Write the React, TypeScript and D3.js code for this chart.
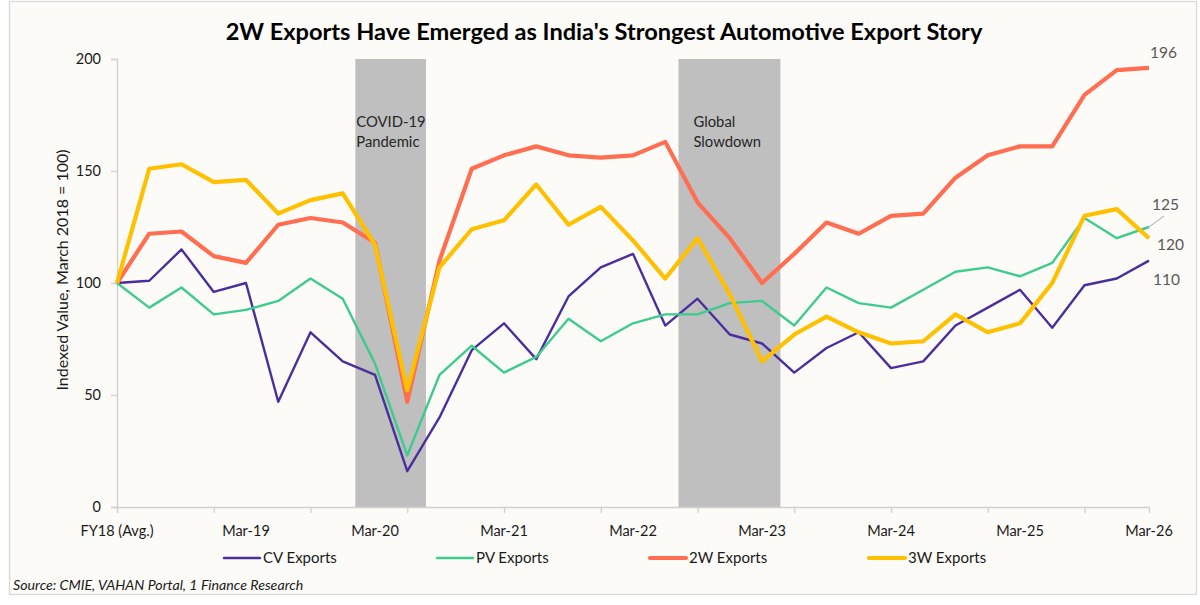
import { useEffect, useRef } from "react";
import * as d3 from "d3";

const categories = [
  "FY18 (Avg.)", "Jun-18", "Sep-18", "Dec-18", "Mar-19", "Jun-19", "Sep-19", "Dec-19",
  "Mar-20", "Jun-20", "Sep-20", "Dec-20", "Mar-21", "Jun-21", "Sep-21", "Dec-21",
  "Mar-22", "Jun-22", "Sep-22", "Dec-22", "Mar-23", "Jun-23", "Sep-23", "Dec-23",
  "Mar-24", "Jun-24", "Sep-24", "Dec-24", "Mar-25", "Jun-25", "Sep-25", "Dec-25", "Mar-26",
];
const shownLabels = ["FY18 (Avg.)", "Mar-19", "Mar-20", "Mar-21", "Mar-22", "Mar-23", "Mar-24", "Mar-25", "Mar-26"];

const cvExports = [100, 101, 115, 96, 100, 47, 78, 65, 59, 16, 40, 70, 82, 66, 94, 107, 113, 81, 93, 77, 73, 60, 71, 78, 62, 65, 81, 89, 97, 80, 99, 102, 110];
const pvExports = [100, 89, 98, 86, 88, 92, 102, 93, 64, 23, 59, 72, 60, 67, 84, 74, 82, 86, 86, 91, 92, 81, 98, 91, 89, 97, 105, 107, 103, 109, 129, 120, 125];
const twExports = [100, 122, 123, 112, 109, 126, 129, 127, 118, 47, 110, 151, 157, 161, 157, 156, 157, 163, 136, 120, 100, 113, 127, 122, 130, 131, 147, 157, 161, 161, 184, 195, 196];
const threeWExports = [100, 151, 153, 145, 146, 131, 137, 140, 117, 52, 107, 124, 128, 144, 126, 134, 119, 102, 120, 95, 65, 77, 85, 78, 73, 74, 86, 78, 82, 100, 130, 133, 120];

const yTicks = [0, 50, 100, 150, 200];

// shaded periods, in category-index units
const bands = [
  { start: 7.39, end: 9.58, lines: ["COVID-19", "Pandemic"], pad: 1 },
  { start: 17.41, end: 20.57, lines: ["Global", "Slowdown"], pad: 15 },
];

// end labels: text, offset from the last point (dx, dy)
const seriesList = [
  { name: "CV Exports", values: cvExports, color: "#4B2E9E", width: 2.4, end: "110", dx: 4, dy: 24 },
  { name: "PV Exports", values: pvExports, color: "#3DCB8E", width: 2.4, end: "125", dx: 3, dy: -17 },
  { name: "2W Exports", values: twExports, color: "#FF6E50", width: 4.2, end: "196", dx: 1, dy: -10 },
  { name: "3W Exports", values: threeWExports, color: "#FFC000", width: 4.2, end: "120", dx: 8, dy: 12 },
];

const W = 1200;
const H = 605;
const M = { top: 59, bottom: 98, left: 117, right: 51 };
const FONT = "Lato, 'Open Sans', sans-serif";

export default function App() {
  const svgRef = useRef<SVGSVGElement>(null);

  useEffect(() => {
    if (!svgRef.current) return;
    const svg = d3.select(svgRef.current);
    svg.selectAll("*").remove();

    const innerW = W - M.left - M.right;
    const innerH = H - M.top - M.bottom;

    const x = d3.scaleLinear().domain([0, categories.length - 1]).range([0, innerW]);
    const y = d3.scaleLinear().domain([0, 200]).range([innerH, 0]);

    svg.append("rect").attr("width", W).attr("height", H).attr("fill", "#ffffff");
    svg
      .append("rect")
      .attr("x", 9.5)
      .attr("y", 1.5)
      .attr("width", 1187)
      .attr("height", 593)
      .attr("fill", "#FCFBF7")
      .attr("stroke", "#D9D9D9")
      .attr("stroke-width", 1.3);

    svg
      .append("text")
      .attr("x", 604)
      .attr("y", 40)
      .attr("text-anchor", "middle")
      .attr("font-family", FONT)
      .attr("font-weight", 700)
      .attr("font-size", 23.6)
      .attr("fill", "#000")
      .text("2W Exports Have Emerged as India's Strongest Automotive Export Story");

    const g = svg.append("g").attr("transform", `translate(${M.left},${M.top})`);

    // shaded periods
    bands.forEach((b) => {
      g.append("rect")
        .attr("x", x(b.start))
        .attr("y", y(200))
        .attr("width", x(b.end) - x(b.start))
        .attr("height", y(0) - y(200))
        .attr("fill", "#BFBFBF");
    });

    // axes
    const yAxis = g.append("g").call(d3.axisLeft(y).tickValues(yTicks).tickSize(6).tickPadding(10));
    yAxis.select(".domain").attr("stroke", "#D0D0D0").attr("stroke-width", 1.3);
    yAxis.selectAll(".tick line").attr("stroke", "#D0D0D0").attr("stroke-width", 1.3);
    yAxis
      .selectAll(".tick text")
      .attr("font-family", FONT)
      .attr("font-size", 14.5)
      .attr("fill", "#1a1a1a");

    const tickIdx = d3.range(0, categories.length, 3);
    const xAxis = g
      .append("g")
      .attr("transform", `translate(0,${innerH})`)
      .call(d3.axisBottom(x).tickValues(tickIdx).tickSize(6).tickFormat(() => ""));
    xAxis.select(".domain").attr("stroke", "#D0D0D0").attr("stroke-width", 1.3);
    xAxis.selectAll(".tick line").attr("stroke", "#D0D0D0").attr("stroke-width", 1.3);

    categories.forEach((c, i) => {
      if (!shownLabels.includes(c)) return;
      g.append("text")
        .attr("x", x(i))
        .attr("y", innerH + 29)
        .attr("text-anchor", "middle")
        .attr("font-family", FONT)
        .attr("font-size", 14.5)
        .attr("fill", "#1a1a1a")
        .text(c);
    });

    // band labels
    bands.forEach((b) => {
      b.lines.forEach((t, li) => {
        g.append("text")
          .attr("x", x(b.start) + b.pad)
          .attr("y", 68 + li * 20)
          .attr("font-family", FONT)
          .attr("font-size", 14.8)
          .attr("fill", "#262626")
          .text(t);
      });
    });

    // lines
    const line = d3
      .line<number>()
      .x((_, i) => x(i))
      .y((d) => y(d));

    seriesList.forEach((s) => {
      g.append("path")
        .datum(s.values)
        .attr("d", line)
        .attr("fill", "none")
        .attr("stroke", s.color)
        .attr("stroke-width", s.width)
        .attr("stroke-linejoin", "round");
    });

    // end labels
    const last = categories.length - 1;
    g.append("line")
      .attr("x1", x(last))
      .attr("y1", y(pvExports[last]))
      .attr("x2", x(last) + 15)
      .attr("y2", y(pvExports[last]) - 11)
      .attr("stroke", "#A6A6A6")
      .attr("stroke-width", 1);
    seriesList.forEach((s) => {
      g.append("text")
        .attr("x", x(last) + s.dx)
        .attr("y", y(s.values[last]) + s.dy)
        .attr("font-family", FONT)
        .attr("font-size", 15.5)
        .attr("fill", "#595959")
        .text(s.end);
    });

    // y axis title
    svg
      .append("text")
      .attr("transform", `translate(68,270) rotate(-90)`)
      .attr("text-anchor", "middle")
      .attr("font-family", FONT)
      .attr("font-size", 16)
      .attr("fill", "#1a1a1a")
      .text("Indexed Value, March 2018 = 100)");

    // legend
    const legendX = [224, 437, 650, 869];
    seriesList.forEach((s, i) => {
      const lg = svg.append("g").attr("transform", `translate(${legendX[i]},558)`);
      lg.append("line")
        .attr("x1", 0)
        .attr("x2", 36)
        .attr("y1", 0)
        .attr("y2", 0)
        .attr("stroke", s.color)
        .attr("stroke-width", s.width)
        .attr("stroke-linecap", "round");
      lg.append("text")
        .attr("x", 39)
        .attr("y", 5)
        .attr("font-family", FONT)
        .attr("font-size", 15)
        .attr("fill", "#1a1a1a")
        .text(s.name);
    });

    svg
      .append("text")
      .attr("x", 13)
      .attr("y", 590)
      .attr("font-family", FONT)
      .attr("font-style", "italic")
      .attr("font-size", 14.2)
      .attr("fill", "#1a1a1a")
      .text("Source: CMIE, VAHAN Portal, 1 Finance Research");
  }, []);

  return (
    <div style={{ position: "fixed", left: 0, top: 0, width: W, height: H }}>
      <svg ref={svgRef} width={W} height={H} viewBox={`0 0 ${W} ${H}`} />
    </div>
  );
}
